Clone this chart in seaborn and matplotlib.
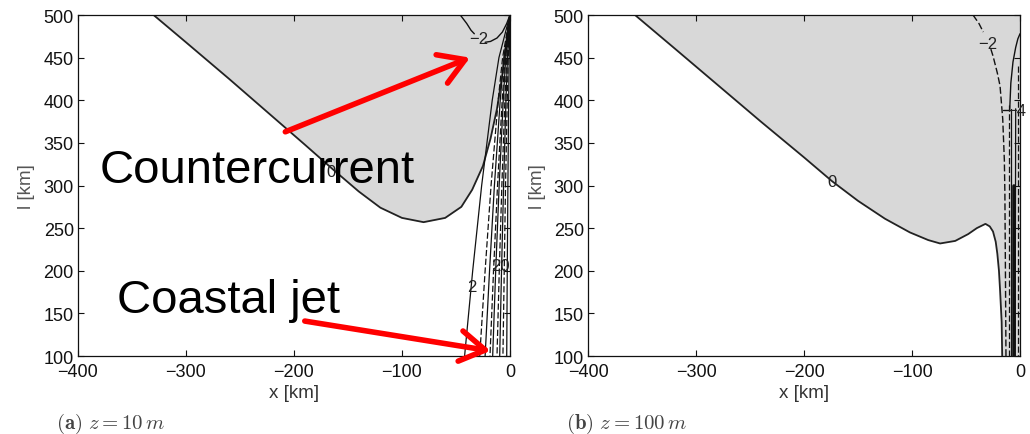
import matplotlib
matplotlib.use("Agg")
import matplotlib.pyplot as plt
import seaborn as sns

# ---------------- data ----------------
x_ticks = [-400, -300, -200, -100, 0]
y_ticks = [100, 150, 200, 250, 300, 350, 400, 450, 500]
x_label = "x [km]"
y_label = "l [km]"
captions = [r"$\mathbf{(a)}\ z = 10\,m$", r"$\mathbf{(b)}\ z = 100\,m$"]

# panel (a) z = 10 m : zero contour (edge of grey countercurrent region)
zero_a_x = [-330, -300, -260, -220, -190, -164, -140, -120, -100, -80, -60, -45, -35, -25, -18, -12, -7, -3, 0]
zero_a_y = [500, 468, 425, 381, 348, 319, 293, 274, 262, 257, 262, 275, 295, 323, 355, 390, 430, 470, 500]
# -2 contour (two pieces around its label)
neg2_a1_x = [-46, -40, -36, -33]
neg2_a1_y = [500, 490, 482, 478]
neg2_a2_x = [-23, -18, -12, -7, -3, 0]
neg2_a2_y = [468, 469, 473, 480, 490, 500]
# coastal-jet contours fanning from the corner; rows = lines, columns = jet_y levels
jet_y = [500, 450, 400, 300, 200, 100]
jet_a_x = [
    [0, -10.2, -16.4, -26.2, -34.5, -42],
    [0, -6.8, -10.9, -17.5, -23.0, -28],
    [0, -5.6, -9.0, -14.4, -18.9, -23],
    [0, -4.5, -7.2, -11.5, -15.2, -18.5],
    [0, -3.9, -6.2, -10.0, -13.2, -16],
    [0, -2.9, -4.7, -7.5, -9.9, -12],
    [0, -2.3, -3.7, -5.9, -7.8, -9.5],
    [0, -1.6, -2.5, -4.1, -5.3, -6.5],
    [0, -0.7, -1.2, -1.9, -2.5, -3],
]
jet_a_dashed = [False, True, False, True, False, True, False, True, False]

# panel (b) z = 100 m : zero contour
zero_b_x = [-356.5, -320, -280, -240, -200, -174, -150, -125, -102, -85, -74, -60, -48, -40,
            -32, -28, -25, -22.5, -21, -19.5, -18.5, -17, -16.5]
zero_b_y = [500, 461, 418, 375, 333, 305, 282, 261, 245, 236, 232, 235, 243, 250,
            255, 252, 246, 234, 220, 200, 178, 140, 100]
neg2_b1_x = [-43.5, -38, -34]
neg2_b1_y = [500, 490, 480]
neg2_b2_x = [-27, -25, -21, -18.5, -16, -14.5, -14, -13.5, -13]
neg2_b2_y = [460, 452, 432, 417, 378, 330, 290, 200, 100]
arch_b_x = [-9.5, -8.5, -6.5, -4, -2, 0]
arch_b_y = [390, 420, 445, 462, 472, 478]
neg4_b_x = [-16, -8]
neg4_b_y = [389, 389]
coast_b_x = [[-10, -10], [-8, -8], [-6, -6], [-4, -4.5], [-2, -2]]
coast_b_y = [[395, 100], [390, 100], [300, 100], [390, 100], [440, 100]]
coast_b_lw = [0.9, 0.9, 2.6, 0.9, 0.9]
coast_b_dashed = [True, False, False, False, True]

# contour labels: (text, x, y)
labels_a = [("\u22122", -29, 472), ("2", -35, 182), ("20", -9, 206), ("0", -166, 317)]
labels_b = [("\u22122", -30, 466), ("0", -174, 305), ("\u22124", -3, 388)]

# annotations (text, x, y) and red arrows (tail x, tail y, tip x, tip y) in panel (a) data units
notes_a = [("Countercurrent", -379.5, 304), ("Coastal jet", -364, 151.5)]
arrows_a = [(-208, 363, -37, 450), (-190, 141, -18, 106)]

# ---------------- styling ----------------
sns.set_style("ticks")
plt.rcParams['font.family'] = ['Liberation Sans', 'DejaVu Sans']
plt.rcParams['mathtext.fontset'] = 'cm'

GREY = "#d8d8d8"
fig = plt.figure(figsize=(10.3, 4.35), dpi=100)
ax_a = fig.add_axes([0.0757, 0.1793, 0.4194, 0.7839])
ax_b = fig.add_axes([0.5709, 0.1793, 0.4194, 0.7839])


def line(ax, xs, ys, lw=1.0, dashed=False, color="#111111"):
    sns.lineplot(x=xs, y=ys, sort=False, estimator=None, color=color, lw=lw,
                 linestyle=(0, (5, 2)) if dashed else "-", ax=ax)


# panel (a)
ax_a.fill_between(zero_a_x, zero_a_y, 500, color=GREY, lw=0, zorder=0)
line(ax_a, zero_a_x, zero_a_y, lw=1.3, color="#222222")
line(ax_a, neg2_a1_x, neg2_a1_y, lw=1.0)
line(ax_a, neg2_a2_x, neg2_a2_y, lw=1.0)
for xs, d in zip(jet_a_x, jet_a_dashed):
    line(ax_a, xs, jet_y, lw=0.9, dashed=d)

# panel (b)
ax_b.fill(zero_b_x + [0, 0], zero_b_y + [100, 500], color=GREY, lw=0, zorder=0)
line(ax_b, zero_b_x, zero_b_y, lw=1.3, color="#222222")
line(ax_b, neg2_b1_x, neg2_b1_y, lw=1.0, dashed=True)
line(ax_b, neg2_b2_x, neg2_b2_y, lw=1.0, dashed=True)
line(ax_b, arch_b_x, arch_b_y, lw=1.0)
line(ax_b, neg4_b_x, neg4_b_y, lw=1.0)
for xs, ys, lw, d in zip(coast_b_x, coast_b_y, coast_b_lw, coast_b_dashed):
    line(ax_b, xs, ys, lw=lw, dashed=d)

for ax, labels in ((ax_a, labels_a), (ax_b, labels_b)):
    for t, x, y in labels:
        ax.text(x, y, t, fontsize=12, color="#222222", ha="center", va="center",
                clip_on=False, zorder=3)

for ax, cap in ((ax_a, captions[0]), (ax_b, captions[1])):
    ax.set_xlim(-400, 0)
    ax.set_ylim(100, 500)
    ax.set_xticks(x_ticks)
    ax.set_yticks(y_ticks)
    ax.set_xticklabels([f"{v}".replace("-", "\u2212") for v in x_ticks])
    ax.tick_params(direction="in", top=True, right=True, length=4, width=0.8,
                   labelsize=13, colors="#111111", pad=3)
    ax.tick_params(axis="x", pad=5)
    for s in ax.spines.values():
        s.set_visible(True)
        s.set_linewidth(0.9)
        s.set_color("#111111")
    ax.set_xlabel(x_label, fontsize=13.5, color="#333333")
    ax.set_ylabel(y_label, fontsize=13.5, color="#555555")
    ax.xaxis.set_label_coords(0.5, -0.106)
    ax.xaxis.label.set_verticalalignment("center")
    ax.yaxis.set_label_coords(-0.118, 0.5)
    ax.yaxis.label.set_verticalalignment("center")
    ax.text(-0.05, -0.212, cap, transform=ax.transAxes, fontsize=15,
            color="#444444", ha="left", va="baseline")

for t, x, y in notes_a:
    ax_a.text(x, y, t, fontsize=34, color="black", ha="left", va="baseline",
              zorder=4, clip_on=False)
for x0, y0, x1, y1 in arrows_a:
    ax_a.annotate("", xy=(x1, y1), xytext=(x0, y0), annotation_clip=False, zorder=5,
                  arrowprops=dict(arrowstyle="->,head_length=0.9,head_width=0.55",
                                  color="#ff0000", lw=4, mutation_scale=20,
                                  shrinkA=0, shrinkB=0))

fig.savefig("out.png", dpi=100)
